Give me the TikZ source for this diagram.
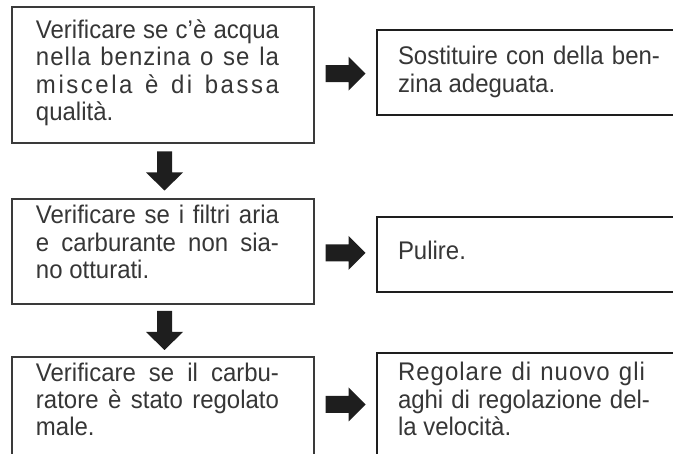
\documentclass[tikz,border=0pt]{standalone}
\usepackage{fontspec}
\setmainfont[FakeStretch=0.94]{Liberation Sans}
\usetikzlibrary{calc}
\definecolor{ink}{HTML}{363636}
\definecolor{edgeL}{HTML}{3A3A3A}
\definecolor{edgeR}{HTML}{1E1E1E}
\newcommand{\jl}[3][0]{\hbox to #2{\addfontfeature{LetterSpace=#1}#3}}
\newcommand{\nl}[1]{\hbox{#1}}
\newcommand{\btext}[3]{\hbox to #1{\hskip #2\vtop{\fontsize{25.5}{27.2}\selectfont #3}\hss}}
\tikzset{
  lbox/.style={draw=edgeL, line width=1.3pt, inner sep=0pt, outer sep=0pt, anchor=north west, text=ink},
  rbox/.style={draw=edgeR, line width=2.5pt, inner sep=0pt, outer sep=0pt, anchor=north west, text=ink},
  rarr/.pic={\fill[edgeR] (-20,-8.5) -- (3,-8.5) -- (3,-17) -- (20,0) -- (3,17) -- (3,8.5) -- (-20,8.5) -- cycle;},
  darr/.pic={\fill[edgeR] (-7.5,-19.5) -- (7.5,-19.5) -- (7.5,1.5) -- (18.5,1.5) -- (0,19.5) -- (-18.5,1.5) -- (-7.5,1.5) -- cycle;}
}
\begin{document}
\begin{tikzpicture}[x=1pt,y=-1pt]
\useasboundingbox (0,0) rectangle (673,454);
\clip (0,0) rectangle (673,454);
% left column
\node[lbox, text height=31.7pt, text depth=104.3pt] (L1) at (12,7)
  {\btext{302pt}{24pt}{\jl{243pt}{Verificare se c’è acqua}\jl[4]{243pt}{nella benzina o se la}\jl[10]{243pt}{miscela è di bassa}\nl{qualità.}}};
\node[lbox, text height=25pt, text depth=80pt] (L2) at (12,199)
  {\btext{302pt}{24pt}{\jl{243pt}{Verificare se i filtri aria}\jl{243pt}{e carburante non sia-}\nl{no otturati.}}};
\node[lbox, text height=24.5pt, text depth=110pt] (L3) at (12,357)
  {\btext{302pt}{24pt}{\jl{243pt}{Verificare se il carbu-}\jl{243pt}{ratore è stato regolato}\nl{male.}}};
% right column
\node[rbox, text height=35pt, text depth=50pt] (R1) at (377,30)
  {\btext{320pt}{21pt}{\jl{262pt}{Sostituire con della ben-}\nl{zina adeguata.}}};
\node[rbox, text height=42.5pt, text depth=32.5pt] (R2) at (377,217)
  {\btext{320pt}{21pt}{\nl{Pulire.}}};
\node[rbox, text height=28pt, text depth=110pt] (R3) at (377,353)
  {\btext{320pt}{21pt}{\jl[4]{247pt}{Regolare di nuovo gli}\jl{252pt}{aghi di regolazione del-}\nl{la velocità.}}};
% arrows
\pic at ($(L1.east)!0.5!(R1.west)$) {rarr};
\pic at ($(L2.east)!0.5!(R2.west)$) {rarr};
\pic at ($(L3.north east)!0.5!(R3.north west)+(0,49.5)$) {rarr};
\pic at ($(L1.south)!0.5!(L2.north)+(1.5,0)$) {darr};
\pic at ($(L2.south)!0.5!(L3.north)+(1.5,0)$) {darr};
\end{tikzpicture}
\end{document}
